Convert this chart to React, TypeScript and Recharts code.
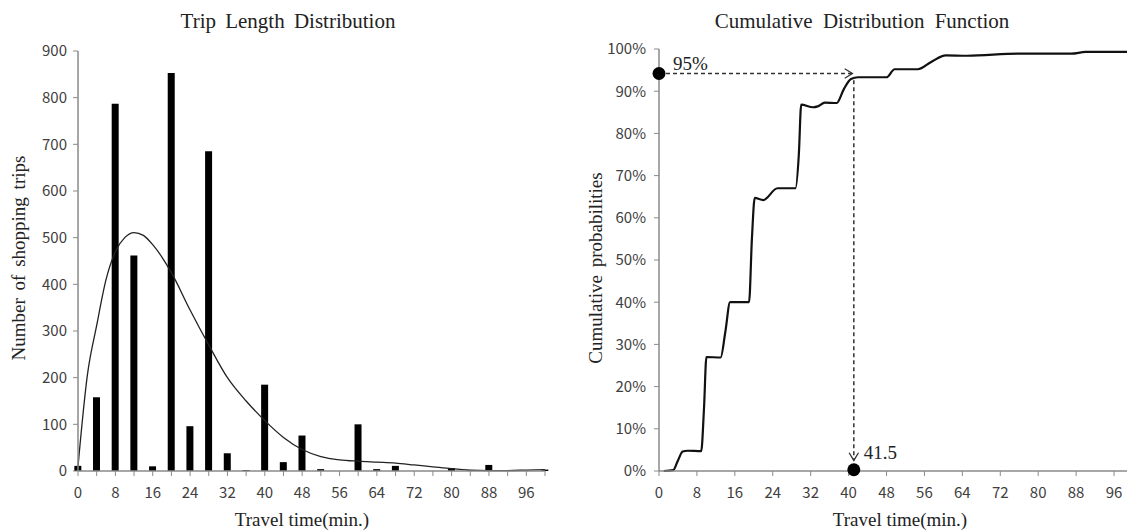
import React from 'react';
import {
  Bar,
  ComposedChart,
  Line,
  LineChart,
  ReferenceDot,
  ReferenceLine,
  XAxis,
  YAxis,
} from 'recharts';

// left panel: trip counts per 4-minute bin
const tripTimes = [0, 4, 8, 12, 16, 20, 24, 28, 32, 36, 40, 44, 48, 52, 56, 60, 64, 68, 72, 76, 80, 84, 88, 92, 96, 100];
const tripCounts = [11, 158, 787, 462, 10, 853, 96, 685, 38, 2, 185, 19, 76, 4, 0, 100, 4, 11, 0, 0, 6, 2, 13, 0, 1, 3];

// fitted curve over the histogram
const fitTimes = [0, 2, 4, 6, 8, 10, 12, 14, 16, 18, 20, 24, 28, 32, 36, 40, 44, 48, 52, 56, 60, 64, 68, 72, 76, 80, 84, 88, 92, 96, 100];
const fitValues = [10, 205, 312, 410, 470, 500, 511, 505, 485, 458, 425, 345, 270, 200, 150, 108, 72, 46, 31, 24, 21, 19, 17, 13, 9, 5, 2, 1, 1, 2, 3];

// right panel: cumulative probability (%)
const cdfTimes = [1, 3, 4, 5, 6, 8.9, 9.5, 10, 13, 14, 15, 19, 19.6, 20.2, 22, 25, 28.8, 29.5, 30, 32.5, 33.5, 35, 37.5, 39, 40.5, 42, 48, 49.7, 54.6, 57.5, 60.5, 65, 76, 87, 90, 100];
const cdfValues = [0, 0.2, 2.5, 4.6, 4.8, 4.7, 15, 27, 26.9, 33, 40, 40, 55, 64.7, 64.2, 67, 67, 75, 86.8, 86.2, 86.4, 87.3, 87.2, 90.5, 92.9, 93.3, 93.3, 95.2, 95.2, 97, 98.5, 98.4, 98.9, 98.9, 99.3, 99.3];

const leftXTicks = [0, 4, 8, 12, 16, 20, 24, 28, 32, 36, 40, 44, 48, 52, 56, 60, 64, 68, 72, 76, 80, 84, 88, 92, 96, 100];
const leftXLabels = ['0', '', '8', '', '16', '', '24', '', '32', '', '40', '', '48', '', '56', '', '64', '', '72', '', '80', '', '88', '', '96', ''];
const leftYTicks = [0, 100, 200, 300, 400, 500, 600, 700, 800, 900];
const rightXTicks = [0, 8, 16, 24, 32, 40, 48, 56, 64, 72, 80, 88, 96];
const rightYTicks = [0, 10, 20, 30, 40, 50, 60, 70, 80, 90, 100];

// annotation: 95% level reached at 41.5 min
const levelPct = 94.2;
const levelArrowEnd = 40.8;
const cutoffTime = 41.1;
const cutoffTop = 92.6;
const cutoffArrowEnd = 2.5;

const histData = fitTimes.map((t, i) => {
  const k = tripTimes.indexOf(t);
  return { t, count: k >= 0 ? tripCounts[k] : undefined, fit: fitValues[i] };
});
const cdfData = cdfTimes.map((t, i) => ({ t, p: cdfValues[i] }));

const axisGray = '#8a8a8a';
const tickStyle = { fill: '#404040', fontSize: 15, fontFamily: '"Noto Sans CJK KR", "Noto Sans", sans-serif' };
const serif = '"Liberation Serif", "Times New Roman", serif';

const ArrowLine = (props: any) => {
  const { x1, y1, x2, y2 } = props;
  const a = Math.atan2(y2 - y1, x2 - x1);
  const len = 9;
  const s = 0.55;
  const ax = x2 - len * Math.cos(a - s);
  const ay = y2 - len * Math.sin(a - s);
  const bx = x2 - len * Math.cos(a + s);
  const by = y2 - len * Math.sin(a + s);
  return (
    <g>
      <line x1={x1} y1={y1} x2={x2} y2={y2} stroke='#333' strokeWidth={1.5} strokeDasharray='4 3' />
      <path d={`M${ax},${ay}L${x2},${y2}L${bx},${by}`} fill='none' stroke='#333' strokeWidth={1.3} />
    </g>
  );
};

const dotWithText = (text: string, dx: number, dy: number) => (p: any) => (
  <g>
    <circle cx={p.cx} cy={p.cy} r={6.5} fill='#000' />
    <text x={p.cx + dx} y={p.cy + dy} fontFamily={serif} fontSize={19} fill='#222'>
      {text}
    </text>
  </g>
);

export default function App() {
  return (
    <div
      style={{
        position: 'absolute',
        left: 0,
        top: 0,
        width: 1127,
        height: 531,
        overflow: 'hidden',
        background: '#fff',
      }}
    >
      <div style={{ position: 'absolute', left: 0, top: 0 }}>
        <ComposedChart width={560} height={531} data={histData} margin={{ top: 51, right: 15, bottom: 0, left: 0 }}>
          <XAxis
            type='number'
            dataKey='t'
            domain={[0, 100]}
            ticks={leftXTicks}
            interval={0}
            tickFormatter={(v: number) => leftXLabels[leftXTicks.indexOf(v)] ?? ''}
            height={60}
            tickSize={5}
            tickMargin={11}
            axisLine={{ stroke: axisGray, strokeWidth: 1.5 }}
            tickLine={{ stroke: axisGray }}
            tick={tickStyle}
          />
          <YAxis
            domain={[0, 900]}
            ticks={leftYTicks}
            interval={0}
            width={78}
            tickSize={5}
            tickMargin={6}
            axisLine={{ stroke: axisGray, strokeWidth: 1.5 }}
            tickLine={{ stroke: axisGray }}
            tick={tickStyle}
          />
          <Bar dataKey='count' fill='#000' barSize={7} isAnimationActive={false} />
          <Line
            type='monotone'
            dataKey='fit'
            stroke='#222'
            strokeWidth={1.3}
            dot={false}
            connectNulls
            isAnimationActive={false}
          />
        </ComposedChart>
      </div>

      <div style={{ position: 'absolute', left: 560, top: 0 }}>
        <LineChart width={590} height={531} data={cdfData} margin={{ top: 49, right: 17, bottom: 0, left: 0 }}>
          <XAxis
            type='number'
            dataKey='t'
            domain={[0, 100]}
            ticks={rightXTicks}
            interval={0}
            height={60}
            tickSize={5}
            tickMargin={11}
            axisLine={{ stroke: axisGray, strokeWidth: 1.5 }}
            tickLine={{ stroke: axisGray }}
            tick={tickStyle}
          />
          <YAxis
            domain={[0, 100]}
            ticks={rightYTicks}
            interval={0}
            width={99}
            tickSize={5}
            tickMargin={8}
            tickFormatter={(v: number) => `${v}%`}
            axisLine={{ stroke: axisGray, strokeWidth: 1.5 }}
            tickLine={{ stroke: axisGray }}
            tick={tickStyle}
          />
          <Line type='monotone' dataKey='p' stroke='#111' strokeWidth={2.2} dot={false} isAnimationActive={false} />
          <ReferenceLine
            segment={[
              { x: 0, y: levelPct },
              { x: levelArrowEnd, y: levelPct },
            ]}
            shape={ArrowLine}
          />
          <ReferenceLine
            segment={[
              { x: cutoffTime, y: cutoffTop },
              { x: cutoffTime, y: cutoffArrowEnd },
            ]}
            shape={ArrowLine}
          />
          <ReferenceDot x={0} y={levelPct} r={6.5} shape={dotWithText('95%', 14, -3.5)} />
          <ReferenceDot x={cutoffTime} y={0.3} r={6.5} shape={dotWithText('41.5', 10, -11)} />
        </LineChart>
      </div>

      <svg
        width={1127}
        height={531}
        style={{ position: 'absolute', left: 0, top: 0, pointerEvents: 'none' }}
      >
        <g fontFamily={serif} fill='#222'>
          <text x={288} y={28} fontSize={21} textAnchor='middle' wordSpacing={4}>
            Trip Length Distribution
          </text>
          <text x={862} y={28} fontSize={21} textAnchor='middle' wordSpacing={5}>
            Cumulative Distribution Function
          </text>
          <text x={302} y={526} fontSize={19} textAnchor='middle'>
            Travel time(min.)
          </text>
          <text x={900} y={526} fontSize={19} textAnchor='middle'>
            Travel time(min.)
          </text>
          <text
            x={18}
            y={258}
            fontSize={19}
            textAnchor='middle'
            dominantBaseline='central'
            wordSpacing={3}
            transform='rotate(-90 18 258)'
          >
            Number of shopping trips
          </text>
          <text
            x={595}
            y={268}
            fontSize={19}
            textAnchor='middle'
            dominantBaseline='central'
            wordSpacing={3}
            transform='rotate(-90 595 268)'
          >
            Cumulative probabilities
          </text>
        </g>
      </svg>
    </div>
  );
}
